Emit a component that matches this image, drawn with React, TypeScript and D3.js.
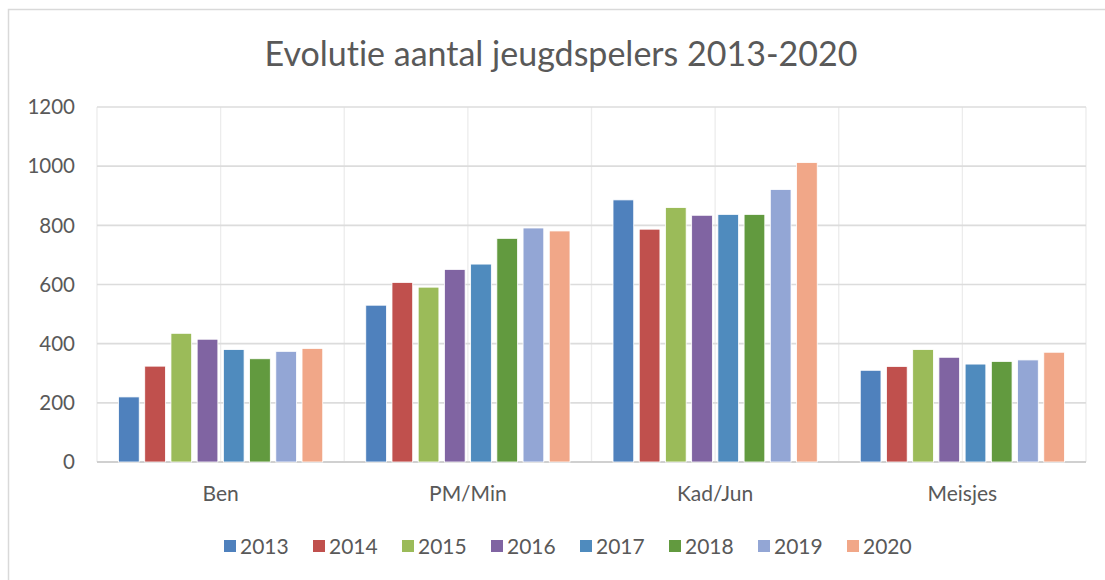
import React from 'react'
import * as d3 from 'd3'

const categories = ['Ben', 'PM/Min', 'Kad/Jun', 'Meisjes']
const years = ['2013', '2014', '2015', '2016', '2017', '2018', '2019', '2020']

// one array per year, in category order
const v2013 = [220, 530, 886, 310]
const v2014 = [324, 607, 787, 323]
const v2015 = [435, 591, 860, 380]
const v2016 = [415, 651, 834, 354]
const v2017 = [380, 669, 837, 331]
const v2018 = [349, 756, 837, 340]
const v2019 = [374, 791, 921, 345]
const v2020 = [384, 781, 1012, 371]
const seriesValues = [v2013, v2014, v2015, v2016, v2017, v2018, v2019, v2020]

const yTicks = [0, 200, 400, 600, 800, 1000, 1200]
const colors = ['#4F81BD', '#C0504D', '#9BBB59', '#8064A2', '#4F8BBE', '#629A3F', '#93A6D5', '#F1A788']

const W = 1105
const H = 580
const margin = { top: 107, right: 19, bottom: 118, left: 97 }
const font = 'Lato, "Open Sans", sans-serif'
const textColor = '#595959'

export default function App() {
  const x0 = d3.scaleBand<string>()
    .domain(categories)
    .range([margin.left, W - margin.right])
  const bw = x0.bandwidth()
  const pad = bw * 0.087
  const x1 = d3.scaleBand<string>()
    .domain(years)
    .range([pad, bw - pad])
    .paddingInner(0.21)
  const y = d3.scaleLinear()
    .domain([0, 1200])
    .range([H - margin.bottom, margin.top])

  const vLines: number[] = []
  categories.forEach((c) => {
    vLines.push(x0(c) as number)
    vLines.push((x0(c) as number) + bw / 2)
  })
  vLines.push(W - margin.right)

  const legendStart = 224
  const legendStep = 89

  return (
    <div style={{ position: 'fixed', left: 0, top: 0 }}>
      <svg width={W} height={H} style={{ display: 'block', background: '#fff', fontVariantLigatures: 'none' }}>
        <rect x={8.5} y={9.5} width={W + 20} height={H + 20} fill="#fff" stroke="#d9d9d9" strokeWidth={1.5} />

        <text x={561} y={66} textAnchor="middle" fontFamily={font} fontSize={34} fill={textColor}>
          Evolutie aantal jeugdspelers 2013-2020
        </text>

        {/* vertical gridlines */}
        {vLines.map((vx, i) => (
          <line key={`v${i}`} x1={vx} x2={vx} y1={y(1200)} y2={y(0)} stroke="#ececec" strokeWidth={1.3} />
        ))}

        {/* horizontal gridlines */}
        {yTicks.map((t) => (
          <line key={`h${t}`} x1={margin.left} x2={W - margin.right} y1={y(t)} y2={y(t)}
            stroke={t === 0 ? '#d0d0d0' : '#dcdcdc'} strokeWidth={t === 0 ? 2 : 1.6} />
        ))}

        {yTicks.map((t) => (
          <text key={`yl${t}`} x={75} y={y(t)} dy="0.35em" textAnchor="end" fontFamily={font} fontSize={20.5} fill={textColor}>
            {t}
          </text>
        ))}

        {categories.map((c, ci) => (
          <g key={c} transform={`translate(${x0(c)},0)`}>
            {years.map((yr, si) => {
              const v = seriesValues[si][ci]
              return (
                <rect key={yr} x={x1(yr)} y={y(v)} width={x1.bandwidth()} height={y(0) - y(v)}
                  fill={colors[si]} stroke="#fff" strokeWidth={0.8} />
              )
            })}
            <text x={bw / 2} y={501} textAnchor="middle" fontFamily={font} fontSize={21} fill={textColor}>
              {c}
            </text>
          </g>
        ))}

        {years.map((yr, i) => (
          <g key={`lg${yr}`} transform={`translate(${legendStart + i * legendStep},540)`}>
            <rect x={0} y={0} width={12} height={12} fill={colors[i]} />
            <text x={16} y={13.5} fontFamily={font} fontSize={21} fill={textColor}>{yr}</text>
          </g>
        ))}
      </svg>
    </div>
  )
}
